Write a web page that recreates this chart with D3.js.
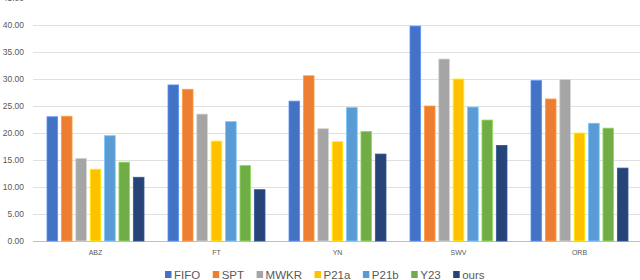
<!DOCTYPE html>
<html>
<head>
<meta charset="utf-8">
<script src="https://cdn.jsdelivr.net/npm/d3@7"></script>
<style>
  body { margin: 0; background: #fff; }
  text { font-family: "Liberation Sans", Arial, sans-serif; fill: #595959; }
</style>
</head>
<body>
<div class="canvas"></div>
<script>
// chart data
const categories = ['ABZ', 'FT', 'YN', 'SWV', 'ORB'];
const methods = ['FIFO', 'SPT', 'MWKR', 'P21a', 'P21b', 'Y23', 'ours'];
const colours = ['#4472C4', '#ED7D31', '#A5A5A5', '#FFC000', '#5B9BD5', '#70AD47', '#264478'];

const FIFO = [23.0, 28.9, 25.9, 39.8, 29.7];
const SPT  = [23.1, 28.1, 30.6, 25.0, 26.3];
const MWKR = [15.3, 23.5, 20.8, 33.7, 29.9];
const P21a = [13.3, 18.5, 18.4, 30.0, 20.0];
const P21b = [19.5, 22.1, 24.7, 24.8, 21.8];
const Y23  = [14.6, 14.0, 20.3, 22.4, 20.9];
const ours = [11.8, 9.5, 16.1, 17.7, 13.5];

const yTicks = [0, 5, 10, 15, 20, 25, 30, 35, 40, 45];

const series = [FIFO, SPT, MWKR, P21a, P21b, Y23, ours];

draw_bar_chart();

function draw_bar_chart(){

    const svg = d3.select('.canvas')
        .append('svg')
        .attr('width', 640)
        .attr('height', 280);

    const y = d3.scaleLinear()
        .domain([0, 45])
        .range([241, -2]);

    // outer band for each instance set
    const x0 = d3.scaleBand()
        .domain(categories)
        .range([35, 640]);

    // inner band for each method
    const x1 = d3.scaleBand()
        .domain(methods)
        .range([12, x0.bandwidth() - 12])
        .paddingInner(0.26);

    const colour = d3.scaleOrdinal(methods, colours);

    // gridlines + labels
    const yAxis = svg.append('g')
        .attr('transform', 'translate(33,0)')
        .call(d3.axisLeft(y).tickValues(yTicks).tickFormat(d3.format('.2f')).tickSize(-607).tickPadding(9));

    yAxis.select('.domain').remove();
    yAxis.selectAll('line')
        .attr('stroke', d => d === 0 ? '#bfbfbf' : '#e0e0e0')
        .attr('stroke-width', 1);
    yAxis.selectAll('text')
        .style('font-size', '8.5px')
        .attr('fill', '#595959');

    // bars
    const groups = svg.selectAll('g.cat')
        .data(categories)
        .enter()
        .append('g')
        .attr('class', 'cat')
        .attr('transform', d => `translate(${x0(d)},0)`);

    groups.selectAll('rect')
        .data((d, i) => methods.map((m, j) => ({ method: m, value: series[j][i] })))
        .enter()
        .append('rect')
        .attr('x', d => x1(d.method))
        .attr('y', d => y(d.value))
        .attr('width', x1.bandwidth())
        .attr('height', d => y(0) - y(d.value))
        .attr('fill', d => colour(d.method))
        .attr('stroke', d => d3.color(colour(d.method)).brighter(0.7))
        .attr('stroke-width', 0.8);

    // category labels
    svg.append('g')
        .selectAll('text')
        .data(categories)
        .enter()
        .append('text')
        .attr('x', d => x0(d) + x0.bandwidth() / 2)
        .attr('y', 255)
        .attr('text-anchor', 'middle')
        .style('font-size', '7px')
        .text(d => d);

    // legend
    const legend = svg.append('g');
    let lx = 165;
    methods.forEach(m => {
        legend.append('rect')
            .attr('x', lx)
            .attr('y', 271)
            .attr('width', 6.5)
            .attr('height', 7)
            .attr('fill', colour(m));
        const t = legend.append('text')
            .attr('x', lx + 9)
            .attr('y', 278.5)
            .style('font-size', '11.5px')
            .text(m);
        lx += 9 + t.node().getComputedTextLength() + 12.5;
    });
}
</script>
</body>
</html>
